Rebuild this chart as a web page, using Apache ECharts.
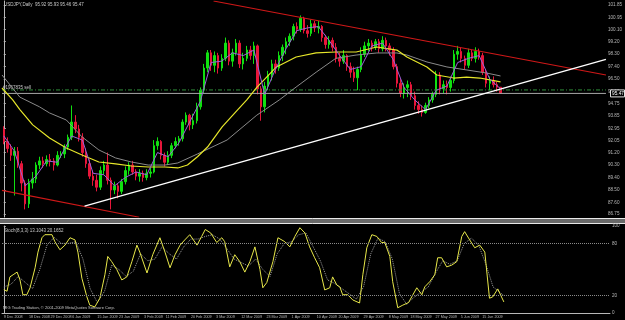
<!DOCTYPE html>
<html>
<head>
<meta charset="utf-8">
<title>USDJPY Daily</title>
<script src="https://cdn.jsdelivr.net/npm/echarts@6/dist/echarts.min.js"></script>
<style>
  html, body { margin: 0; padding: 0; background: #000; }
  #main { width: 625px; height: 320px; }
</style>
</head>
<body>
<div id="main"></div>
<script>
// bars (trading days); the broker has a short bar on 1 Jan but none on 25 Dec
var dates = [
  '9 Dec 2008','10 Dec 2008','11 Dec 2008','12 Dec 2008','15 Dec 2008','16 Dec 2008','17 Dec 2008','18 Dec 2008',
  '19 Dec 2008','22 Dec 2008','23 Dec 2008','24 Dec 2008','26 Dec 2008','29 Dec 2008','30 Dec 2008','31 Dec 2008',
  '1 Jan 2009','2 Jan 2009','5 Jan 2009','6 Jan 2009','7 Jan 2009','8 Jan 2009','9 Jan 2009','12 Jan 2009','13 Jan 2009',
  '14 Jan 2009','15 Jan 2009','16 Jan 2009','19 Jan 2009','20 Jan 2009','21 Jan 2009','22 Jan 2009','23 Jan 2009',
  '26 Jan 2009','27 Jan 2009','28 Jan 2009','29 Jan 2009','30 Jan 2009',
  '2 Feb 2009','3 Feb 2009','4 Feb 2009','5 Feb 2009','6 Feb 2009','9 Feb 2009','10 Feb 2009','11 Feb 2009',
  '12 Feb 2009','13 Feb 2009','16 Feb 2009','17 Feb 2009','18 Feb 2009','19 Feb 2009','20 Feb 2009','23 Feb 2009',
  '24 Feb 2009','25 Feb 2009','26 Feb 2009','27 Feb 2009',
  '2 Mar 2009','3 Mar 2009','4 Mar 2009','5 Mar 2009','6 Mar 2009','9 Mar 2009','10 Mar 2009','11 Mar 2009',
  '12 Mar 2009','13 Mar 2009','16 Mar 2009','17 Mar 2009','18 Mar 2009','19 Mar 2009','20 Mar 2009','23 Mar 2009',
  '24 Mar 2009','25 Mar 2009','26 Mar 2009','27 Mar 2009','30 Mar 2009','31 Mar 2009',
  '1 Apr 2009','2 Apr 2009','3 Apr 2009','6 Apr 2009','7 Apr 2009','8 Apr 2009','9 Apr 2009','10 Apr 2009',
  '13 Apr 2009','14 Apr 2009','15 Apr 2009','16 Apr 2009','17 Apr 2009','20 Apr 2009','21 Apr 2009','22 Apr 2009',
  '23 Apr 2009','24 Apr 2009','27 Apr 2009','28 Apr 2009','29 Apr 2009','30 Apr 2009',
  '1 May 2009','4 May 2009','5 May 2009','6 May 2009','7 May 2009','8 May 2009','11 May 2009','12 May 2009',
  '13 May 2009','14 May 2009','15 May 2009','18 May 2009','19 May 2009','20 May 2009','21 May 2009','22 May 2009',
  '25 May 2009','26 May 2009','27 May 2009','28 May 2009','29 May 2009',
  '1 Jun 2009','2 Jun 2009','3 Jun 2009','4 Jun 2009','5 Jun 2009','8 Jun 2009','9 Jun 2009','10 Jun 2009',
  '11 Jun 2009','12 Jun 2009','15 Jun 2009','16 Jun 2009','17 Jun 2009','18 Jun 2009','19 Jun 2009','22 Jun 2009',
  '23 Jun 2009'
];

// [open, close, low, high]
var ohlc = [
  [92.9,92.0,91.8,93.1],[92.0,91.5,91.2,92.3],[91.5,91.0,90.6,91.8],[91.0,91.3,88.1,91.6],
  [91.3,90.4,90.1,91.6],[90.4,89.0,88.4,90.6],[89.0,87.5,87.1,89.2],[87.5,89.0,87.2,89.3],
  [89.0,89.3,88.6,89.8],[89.3,90.3,89.0,90.5],[90.3,90.6,90.0,90.9],[90.6,90.4,90.1,90.9],
  [90.4,90.7,90.2,91.0],[90.7,90.6,90.2,91.1],[90.6,90.3,89.9,90.8],[90.3,91.0,90.2,91.3],
  [91.0,91.1,90.8,91.3],
  [91.1,91.6,90.8,91.8],[91.6,92.3,91.4,92.5],[92.3,93.4,92.1,94.6],[93.4,92.9,92.6,93.9],
  [92.9,92.3,92.0,93.2],[92.3,91.2,90.9,92.6],[91.2,90.4,90.1,91.5],[90.4,89.5,89.3,90.7],
  [89.5,89.2,88.8,89.9],[89.2,88.7,88.4,89.6],[88.7,89.9,88.5,90.2],[89.9,90.3,89.6,90.6],
  [90.3,89.2,88.9,91.2],[89.2,88.5,87.1,89.4],[88.5,88.8,88.2,89.1],[88.8,88.4,87.9,89.0],
  [88.4,89.1,88.2,89.3],[89.1,89.9,88.9,90.2],[89.9,90.3,89.6,90.5],[90.3,89.8,89.6,90.6],
  [89.8,89.5,89.2,90.0],[89.5,89.7,89.1,90.0],[89.7,89.4,89.1,89.9],[89.4,89.7,89.2,90.0],
  [89.7,89.8,89.4,90.1],[89.8,91.7,89.7,92.1],[91.7,92.0,91.4,92.3],[92.0,91.0,90.7,92.1],
  [91.0,90.5,90.2,91.2],[90.5,91.0,90.3,91.3],[91.0,91.7,90.8,91.9],[91.7,92.0,91.5,92.3],
  [92.0,92.2,91.7,92.4],[92.2,93.4,92.0,93.6],[93.4,93.9,93.2,94.1],[93.9,93.2,92.8,94.0],
  [93.2,93.5,92.9,94.0],[93.5,94.5,93.3,94.8],[94.5,95.7,94.3,95.9],[95.7,97.3,95.5,97.6],
  [97.3,98.4,97.0,98.6],[98.4,97.5,97.1,98.6],[97.5,98.2,97.0,98.5],[98.2,97.3,96.9,98.4],
  [97.3,98.0,97.1,98.3],[98.0,99.1,97.8,99.5],[99.1,97.8,97.5,99.3],[97.8,98.4,97.4,98.7],
  [98.4,99.1,98.2,99.4],[99.1,97.6,97.3,99.3],[97.6,98.0,97.2,98.4],[98.0,98.6,97.8,98.9],
  [98.6,98.2,97.9,98.9],[98.2,98.9,97.6,99.2],[98.9,95.8,95.4,99.0],[95.8,94.5,93.5,96.0],
  [94.5,96.0,94.1,96.3],[96.0,96.8,95.7,97.1],[96.8,97.6,96.4,97.9],[97.6,97.3,96.9,97.9],
  [97.3,98.2,97.1,98.5],[98.2,98.8,97.8,99.0],[98.8,99.2,98.3,99.5],[99.2,99.6,98.9,99.8],
  [99.6,100.3,99.3,100.5],[100.3,100.1,99.8,100.6],[100.1,100.9,99.9,101.1],[100.9,100.0,99.8,101.0],
  [100.0,99.8,99.5,100.4],[99.8,100.5,99.6,100.8],[100.5,100.2,99.9,100.7],[100.2,100.3,99.8,100.7],
  [100.3,99.5,99.2,100.4],[99.5,99.0,98.7,99.7],[99.0,99.3,98.7,99.6],[99.3,98.8,98.5,99.5],
  [98.8,98.0,97.7,99.1],[98.0,97.8,97.4,98.4],[97.8,98.2,97.6,98.6],[98.2,97.4,97.1,98.3],
  [97.4,97.0,96.6,97.7],[97.0,96.6,96.3,97.4],[96.6,97.2,95.7,97.4],[97.2,98.3,97.0,98.8],
  [98.3,98.9,98.1,99.2],[98.9,99.1,98.5,99.4],[99.1,98.8,98.5,99.3],[98.8,99.2,98.6,99.4],
  [99.2,98.7,98.4,99.4],[98.7,99.3,98.5,99.6],[99.3,98.9,98.5,99.5],[98.9,98.6,98.2,99.1],
  [98.6,97.4,97.2,98.8],[97.4,96.2,95.9,97.6],[96.2,95.5,95.2,96.5],[95.5,95.9,95.1,96.2],
  [95.9,96.1,95.2,96.4],[96.1,95.3,95.0,96.3],[95.3,94.6,94.3,95.6],[94.6,94.3,94.0,94.9],
  [94.3,94.1,93.8,94.6],[94.1,94.6,94.0,94.8],[94.6,95.0,94.4,95.2],[95.0,95.4,94.8,95.6],
  [95.4,96.8,95.2,97.1],[96.8,95.8,95.4,97.0],[95.8,96.1,95.5,96.4],[96.1,95.9,95.4,96.4],
  [95.9,96.4,95.6,96.7],[96.4,98.3,96.2,98.6],[98.3,98.5,97.9,98.9],[98.5,98.0,97.7,98.8],
  [98.0,97.5,97.2,98.2],[97.5,98.4,97.3,98.7],[98.4,98.0,97.8,98.6],[98.0,98.5,97.7,98.8],
  [98.5,98.2,97.9,98.7],[98.2,97.0,96.8,98.4],[97.0,96.2,95.9,97.2],[96.2,96.4,95.7,96.7],
  [96.4,96.1,95.9,96.7],[96.1,95.92,95.6,96.3],[95.92,95.47,95.46,95.93]
];

// moving averages, [bar, price]
var fastMa = [
  [0,92.4],[3,91.3],[6,88.8],[9,89.5],[12,90.6],[15,90.5],[19,92.4],[22,92.1],[25,89.7],[28,89.6],
  [31,88.8],[34,89.4],[37,89.8],[40,89.6],[43,91.2],[46,90.9],[49,91.9],[52,93.4],[55,94.9],[58,97.7],
  [61,97.8],[64,98.4],[67,98.2],[70,98.6],[73,95.4],[76,97.2],[79,98.7],[82,100.0],[85,100.2],[88,100.3],
  [91,99.3],[94,98.2],[97,97.2],[100,97.4],[103,98.9],[106,99.1],[109,97.9],[112,95.9],[115,95.0],[118,94.3],
  [121,95.7],[124,96.0],[127,97.7],[130,98.0],[133,98.2],[136,96.5],[139,95.8]
];
var yellowMa = [
  [-0.5,95.86],[2.5,95.0],[4.5,94.3],[8.1,93.2],[12.8,92.25],[17.5,91.53],[21.9,91.03],[26.6,90.52],
  [31.3,90.38],[35.7,90.23],[40.4,90.16],[45.1,90.16],[48.7,90.09],[51.4,90.3],[54.2,90.9],[57,91.6],
  [61.1,93.05],[65.3,94.25],[68,95.0],[70.8,95.9],[76.3,97.38],[81.8,98.1],[87.4,98.4],[92.9,98.46],
  [98.6,98.46],[104.4,98.82],[110,98.6],[112.8,98.1],[118.4,97.38],[121.2,96.8],[125.9,96.58],
  [129.5,96.65],[133.2,96.58],[139,96.3]
];
var grayMa = [
  [-0.5,96.8],[4.5,95.2],[10,94.5],[12.8,94.06],[17.5,93.55],[21.9,92.33],[26.6,91.39],[31.3,90.81],
  [35.7,90.52],[40.4,90.3],[45.1,90.3],[48.7,90.45],[54.2,91.1],[62.5,92.11],[70.8,93.9],[77.1,95.0],
  [81.8,95.93],[87.4,97.0],[92.9,98.0],[98.6,98.24],[104.4,98.39],[110,98.39],[112.8,98.24],
  [118.4,97.74],[124,97.38],[129.6,97.16],[135.1,96.94],[139,96.73]
];

// trend lines drawn on the chart
var redUpper = [[58.7,102.14],[168.5,96.80]];
var redLower = [[-0.5,88.47],[37.9,86.53]];
var whiteLine = [[22.6,87.33],[168.5,97.93]];
var orderLevel = 95.72;
var bidLevel = 95.47;

// stochastic (8,3,3)
var stochK = [
  [0,27],[0.9,25],[1.7,41.5],[2.6,44],[3.7,47],[4.5,38],[5.3,21],[6.4,21],[7.3,29],[8.7,52],
  [9.5,70],[10.6,86.5],[11.4,90],[13.4,90],[14.2,82],[15.6,72.7],[17,78],[18.4,86.5],[19.8,84],[20.6,70],
  [21.7,40],[23.1,18.5],[23.9,9],[25.3,7],[26.7,17],[28.1,44],[28.9,65],[30,59],[31.4,50],[32.8,38],
  [34.2,41.5],[35.6,59],[37,78],[37.8,70],[39.8,46],[41.4,67],[43.4,86.5],[44.8,70],[46.2,52],[47.6,67],
  [49,78],[50.3,84],[51.7,90],[53.7,78],[55,88],[56,96],[57.5,92],[59.2,81],[60.6,86.5],[61.4,82],
  [62.8,53],[64.2,67],[65.6,59],[67,47],[68.4,59],[69.8,76],[71.2,50],[72,29],[73.1,35],[74.8,59],
  [76.2,86.5],[78.1,82],[79.5,76],[80.9,88],[82.3,98],[83.7,92],[85,76],[86.4,63.5],[87.8,52],[89.2,26.5],
  [90.6,29],[91.4,41.5],[92.6,32],[93.4,30],[94.2,21],[95.6,21],[97,15],[98.9,11.5],[99.8,44],[100.9,75],
  [102.3,90],[103.7,88],[105,81],[105.9,81],[107.3,65],[108.1,36],[109.5,6],[110.9,9],[112.5,12],[114.8,29],
  [116.2,21],[117,30],[118.4,36],[119.8,44],[120.6,63.5],[121.7,63.5],[123.1,53],[124.5,55],[125.9,59],[127.3,88],
  [128.1,93.5],[129.5,84],[130.9,75],[132.3,78],[133.7,70],[135,17],[135.9,18.5],[137.3,27.7],[139,12.7]
];
var stochD = [
  [0,30],[2,33],[4,42],[6,35],[8,28],[10,50],[12,78],[14,87],[16,80],[18,80],[20,82],[22,62],[24,28],
  [26,12],[28,25],[30,55],[32,50],[34,42],[36,48],[38,68],[40,60],[42,62],[44,76],[46,68],[48,62],
  [50,76],[52,85],[54,85],[56,88],[58,90],[60,85],[62,74],[64,62],[66,58],[68,54],[70,62],[72,50],
  [74,42],[76,68],[78,80],[80,82],[82,90],[84,92],[86,76],[88,60],[90,38],[92,34],[94,28],[96,22],
  [98,16],[100,30],[102,68],[104,86],[106,82],[108,62],[110,22],[112,10],[114,18],[116,24],[118,30],
  [120,46],[122,60],[124,56],[126,60],[128,80],[130,86],[132,78],[134,56],[136,30],[139,20]
];
var stochLevels = [20, 80];

var priceTicks = [101.85,100.95,100.10,99.20,98.30,97.40,96.50,95.60,94.75,93.85,92.95,92.05,91.20,90.30,89.40,88.50,87.60,86.75];
var stochTicks = [0, 20, 80, 100];
var dateLabels = ['9 Dec 2008','18 Dec 2008','29 Dec 2008','6 Jan 2009','15 Jan 2009','23 Jan 2009','3 Feb 2009',
  '11 Feb 2009','20 Feb 2009','3 Mar 2009','12 Mar 2009','23 Mar 2009','1 Apr 2009','10 Apr 2009','20 Apr 2009',
  '29 Apr 2009','8 May 2009','18 May 2009','27 May 2009','5 Jun 2009','15 Jun 2009'];

var SLOTS = 169; // chart shift: empty space right of the last bar
var cats = dates.slice();
while (cats.length < SLOTS) cats.push('');

var FONT = 'Liberation Sans';
var AXIS = '#b8b8b8';
var UP = '#10e010', DOWN = '#e8163a';

function showDate(i, v) { return dateLabels.indexOf(v) >= 0; }

function overlay(data, color, width, type, grid) {
  return {
    type: 'line', xAxisIndex: grid ? 3 : 1, yAxisIndex: grid ? 1 : 0,
    data: data, symbol: 'none', silent: true, animation: false,
    lineStyle: { color: color, width: width, type: type || 'solid' }
  };
}

var chart = echarts.init(document.getElementById('main'), null, { renderer: 'canvas' });

chart.setOption({
  backgroundColor: '#000',
  animation: false,
  grid: [
    { left: 2, right: 15, top: 1, height: 216 },
    { left: 2, right: 15, top: 226, height: 87 }
  ],
  xAxis: [
    { type: 'category', gridIndex: 0, data: cats, show: false },
    { type: 'value', gridIndex: 0, min: -0.5, max: SLOTS - 0.5, show: false },
    {
      type: 'category', gridIndex: 1, data: cats,
      axisLine: { lineStyle: { color: AXIS, width: 1 } },
      axisTick: { interval: showDate, length: 2, lineStyle: { color: AXIS } },
      axisLabel: { interval: showDate, align: 'left', color: AXIS, fontSize: 3.7, fontFamily: FONT, margin: 2 }
    },
    { type: 'value', gridIndex: 1, min: -0.5, max: SLOTS - 0.5, show: false }
  ],
  yAxis: [
    {
      type: 'value', gridIndex: 0, position: 'right', min: 86.55, max: 102.14, scale: true,
      splitLine: { show: false },
      axisLine: { show: true, lineStyle: { color: AXIS, width: 1 } },
      axisTick: { show: true, customValues: priceTicks, length: 2, lineStyle: { color: AXIS } },
      axisLabel: { customValues: priceTicks, formatter: function (v) { return v.toFixed(2); },
        color: AXIS, fontSize: 4.6, fontFamily: FONT, margin: 2 }
    },
    {
      type: 'value', gridIndex: 1, position: 'right', min: 0, max: 100,
      splitLine: { show: false },
      axisLine: { show: true, lineStyle: { color: AXIS, width: 1 } },
      axisTick: { show: true, customValues: stochTicks, length: 2, lineStyle: { color: AXIS } },
      axisLabel: { customValues: stochTicks, color: AXIS, fontSize: 4.6, fontFamily: FONT, margin: 2 }
    }
  ],
  series: [
    overlay([[-0.5, orderLevel], [SLOTS - 0.5, orderLevel]], '#2f8f3a', 1, [4, 2, 1, 2]),
    overlay([[-0.5, bidLevel], [SLOTS - 0.5, bidLevel]], '#a8a8a8', 1),
    overlay(grayMa, '#8a8a8a', 1),
    overlay(yellowMa, '#e6e62a', 1.2),
    overlay(redUpper, '#d01818', 1.1),
    overlay(redLower, '#d01818', 1.1),
    overlay(whiteLine, '#ffffff', 1.4),
    {
      type: 'candlestick', xAxisIndex: 0, yAxisIndex: 0, data: ohlc, barWidth: 2,
      itemStyle: { color: UP, color0: DOWN, borderColor: UP, borderColor0: DOWN, borderWidth: 1 },
      silent: true
    },
    overlay(fastMa, '#9a62d8', 1),
    Object.assign(overlay(stochD, '#9a9a9a', 1, 'dotted', true), {
      markLine: {
        silent: true, symbol: 'none', label: { show: false },
        lineStyle: { color: '#8a8a8a', type: 'dotted', width: 1 },
        data: stochLevels.map(function (v) { return { yAxis: v }; })
      }
    }),
    overlay(stochK, '#e8e84a', 1, 'solid', true)
  ]
});

// texts and window frame
var last = ohlc[ohlc.length - 1];
var bidY = chart.convertToPixel({ yAxisIndex: 0 }, bidLevel);
var ordY = chart.convertToPixel({ yAxisIndex: 0 }, orderLevel);
chart.setOption({
  graphic: [
    { type: 'text', left: 4, top: 2, style: { text: 'USDJPY,Daily  ' + [last[0], last[3], last[2], last[1]].map(function (v) { return v.toFixed(2); }).join(' '),
      fill: '#c8c8c8', font: '4.5px ' + FONT } },
    { type: 'text', left: 3, top: ordY - 5, style: { text: '#1967835 sell', fill: '#c8c8c8', font: '4.5px ' + FONT } },
    { type: 'rect', shape: { x: 0, y: 218, width: 625, height: 6 }, style: { fill: '#6a6a6a' } },
    { type: 'line', shape: { x1: 0, y1: 218.5, x2: 625, y2: 218.5 }, style: { stroke: '#e8e8e8', lineWidth: 1 } },
    { type: 'line', shape: { x1: 0, y1: 223.5, x2: 625, y2: 223.5 }, style: { stroke: '#e8e8e8', lineWidth: 1 } },
    { type: 'rect', z: 10, shape: { x: 610.5, y: bidY - 3.5, width: 14, height: 7 }, style: { fill: '#000', stroke: '#e0e0e0', lineWidth: 1 } },
    { type: 'text', z: 11, left: 612, top: bidY - 2.6, style: { text: bidLevel.toFixed(2), fill: '#ffffff', font: '4.8px ' + FONT } },
    { type: 'text', left: 4, top: 228, style: { text: 'Stoch(8,3,3) 13.1043 20.1652', fill: '#c8c8c8', font: '4.5px ' + FONT } },
    { type: 'text', left: 3, top: 306, style: { text: 'MIG Trading Station, \u00a9 2001-2009 MetaQuotes Software Corp.', fill: '#c8c8c8', font: '4px ' + FONT } }
  ]
});
</script>
</body>
</html>
